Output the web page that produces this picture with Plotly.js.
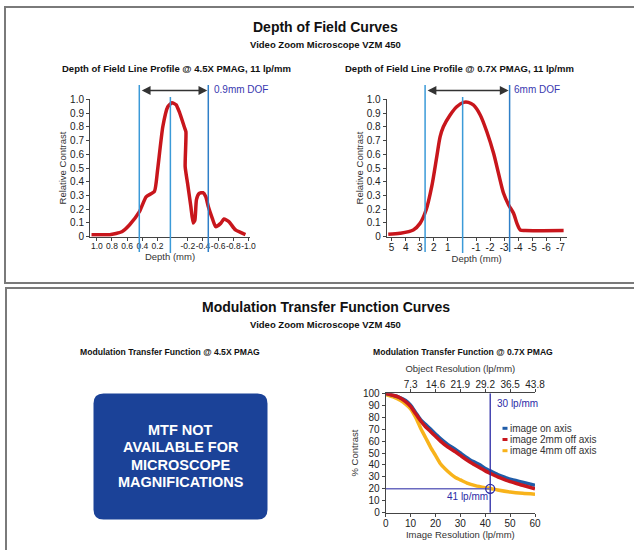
<!DOCTYPE html>
<html>
<head>
<meta charset="utf-8">
<script src="https://cdn.plot.ly/plotly-3.0.1.min.js"></script>
<style>html,body{margin:0;padding:0;background:#fff;}#chart{width:634px;height:550px;}</style>
</head>
<body>
<div id="chart"></div>
<script>
// ---------- data ----------
// Depth of field @ 4.5X PMAG (depth in mm, relative contrast)
const dof45Depth = [1.07, 0.83, 0.67, 0.57, 0.44, 0.35, 0.24, 0.2, 0.13, 0.065, 0.01, -0.045, -0.088, -0.153, -0.175, -0.165, -0.196, -0.24, -0.27, -0.293, -0.314, -0.35, -0.40, -0.437, -0.47, -0.523, -0.567, -0.633, -0.676, -0.741, -0.829, -0.96];
const dof45Contrast = [0.015, 0.015, 0.036, 0.085, 0.18, 0.29, 0.33, 0.48, 0.80, 0.945, 0.975, 0.96, 0.908, 0.80, 0.764, 0.51, 0.39, 0.22, 0.10, 0.12, 0.27, 0.315, 0.32, 0.29, 0.22, 0.134, 0.073, 0.097, 0.129, 0.11, 0.049, 0.015];
const dof45Markers = [0.44, 0.03, -0.47];      // DOF limits and best focus
const dof45Label = '0.9mm DOF';
const dof45TickVals = [1.0, 0.8, 0.6, 0.4, 0.2, -0.2, -0.4, -0.6, -0.8, -1.0];
const dof45TickText = ['1.0', '0.8', '0.6', '0.4', '0.2', '-0.2', '-0.4', '-0.6', '-0.8', '-1.0'];

// Depth of field @ 0.7X PMAG
const dof07Depth = [5.24, 4.4, 3.46, 2.98, 2.55, 2.15, 1.79, 1.55, 1.32, 0.84, 0.37, -0.11, -0.46, -0.82, -1.30, -1.77, -2.25, -2.60, -2.96, -3.32, -3.67, -3.91, -4.15, -4.5, -7.23];
const dof07Contrast = [0.017, 0.025, 0.049, 0.097, 0.194, 0.364, 0.582, 0.728, 0.80, 0.886, 0.946, 0.978, 0.978, 0.958, 0.886, 0.764, 0.607, 0.461, 0.316, 0.231, 0.17, 0.097, 0.049, 0.045, 0.045];
const dof07Markers = [2.62, -0.05, -3.39];
const dof07Label = '6mm DOF';
const dof07TickVals = [5, 4, 3, 2, 1, -1, -2, -3, -4, -5, -6, -7];
const dof07TickText = ['5', '4', '3', '2', '1', '-1', '-2', '-3', '-4', '-5', '-6', '-7'];

const contrastTickVals = [0, 0.1, 0.2, 0.3, 0.4, 0.5, 0.6, 0.7, 0.8, 0.9, 1.0];
const contrastTickText = ['0', '0.1', '0.2', '0.3', '0.4', '0.5', '0.6', '0.7', '0.8', '0.9', '1.0'];

// MTF @ 0.7X PMAG (image resolution lp/mm, % contrast)
const mtfOnAxisRes = [0, 5, 8, 10, 12, 14, 16, 18, 20, 22, 25, 28, 30, 32, 35, 38, 40, 42, 45, 48, 50, 55, 60];
const mtfOnAxis = [100, 97, 94, 90, 84, 78, 74, 70, 66, 62, 57, 53, 50, 47, 43, 40, 37, 35, 32, 29.5, 28, 25.5, 23];
const mtf2mmRes = [0, 5, 8, 10, 12, 14, 16, 18, 20, 22, 25, 28, 30, 32, 35, 38, 40, 42, 45, 48, 50, 55, 60];
const mtf2mm = [100, 97, 93, 89, 83, 77, 72, 68, 64, 60, 55, 51, 48, 45, 41, 37.5, 35, 33, 30, 27.5, 26, 23, 20];
const mtf4mmRes = [0, 3, 6, 8, 10, 12, 14, 16, 18, 20, 22, 25, 28, 30, 33, 36, 40, 42, 45, 50, 55, 60];
const mtf4mm = [99, 97, 94, 91, 87, 80, 71, 63, 55, 48, 41, 34.5, 29.5, 27.5, 24.5, 22.7, 21, 20.3, 19, 17.3, 16.2, 15.5];
const mtfNames = ['image on axis', 'image 2mm off axis', 'image 4mm off axis'];
const imageResTicks = [0, 10, 20, 30, 40, 50, 60];
const objectResTicks = [7.3, 14.6, 21.9, 29.2, 36.5, 43.8];
const objectPerImage = 0.73;              // object resolution = 0.73 x image resolution
const percentTicks = [0, 10, 20, 30, 40, 50, 60, 70, 80, 90, 100];
const limitResolution = 42;               // image lp/mm at 20% contrast
const limitContrast = 20;
const limitImageLabel = '41 lp/mm';
const limitObjectLabel = '30 lp/mm';
const naText = ['MTF NOT', 'AVAILABLE FOR', 'MICROSCOPE', 'MAGNIFICATIONS'];

// ---------- styling ----------
const W = 634, H = 550;
const px = X => X / W;
const py = Y => 1 - Y / H;
const SANS = '"Liberation Sans", Arial, Helvetica, sans-serif';
const RED = '#c8161c';
const LBLUE = '#3b9ad8';
const DBLUE = '#2b2ba6';
const mtfColors = ['#1f5ca8', '#c8161e', '#f8b31b'];

function axisBase(extra) {
  return Object.assign({
    showline: true, linecolor: '#444', linewidth: 1, mirror: false,
    ticks: 'outside', ticklen: 3, tickwidth: 1, tickcolor: '#444', tickangle: 0,
    showgrid: false, zeroline: false, fixedrange: true,
    tickfont: {family: SANS, size: 10, color: '#222'},
    automargin: false
  }, extra);
}

const traces = [
  {x: dof45Depth, y: dof45Contrast, xaxis: 'x', yaxis: 'y', type: 'scatter', mode: 'lines',
   line: {color: RED, width: 3.5, shape: 'spline', smoothing: 0.5}, showlegend: false, hoverinfo: 'skip'},
  {x: dof07Depth, y: dof07Contrast, xaxis: 'x2', yaxis: 'y2', type: 'scatter', mode: 'lines',
   line: {color: RED, width: 3.5, shape: 'spline', smoothing: 0.8}, showlegend: false, hoverinfo: 'skip'},
  {x: mtf4mmRes, y: mtf4mm, xaxis: 'x3', yaxis: 'y3', type: 'scatter', mode: 'lines', name: mtfNames[2],
   line: {color: mtfColors[2], width: 3.5, shape: 'spline', smoothing: 0.6}, showlegend: false, hoverinfo: 'skip'},
  {x: mtfOnAxisRes, y: mtfOnAxis, xaxis: 'x3', yaxis: 'y3', type: 'scatter', mode: 'lines', name: mtfNames[0],
   line: {color: mtfColors[0], width: 3.5, shape: 'spline', smoothing: 0.6}, showlegend: false, hoverinfo: 'skip'},
  {x: mtf2mmRes, y: mtf2mm, xaxis: 'x3', yaxis: 'y3', type: 'scatter', mode: 'lines', name: mtfNames[1],
   line: {color: mtfColors[1], width: 3.5, shape: 'spline', smoothing: 0.6}, showlegend: false, hoverinfo: 'skip'},
  // invisible carrier so the top (object resolution) axis is drawn
  {x: objectResTicks, y: objectResTicks.map(() => limitContrast), xaxis: 'x4', yaxis: 'y3', type: 'scatter', mode: 'markers',
   marker: {opacity: 0, size: 1}, showlegend: false, hoverinfo: 'skip'}
];

const shapes = [];
const annotations = [];

// panel frames
shapes.push({type: 'rect', xref: 'paper', yref: 'paper', x0: px(5), x1: 1.05, y0: py(283), y1: py(7),
  line: {color: '#7a7a7a', width: 2}, fillcolor: 'rgba(0,0,0,0)', layer: 'below'});
shapes.push({type: 'rect', xref: 'paper', yref: 'paper', x0: px(6), x1: 1.05, y0: -0.05, y1: py(288),
  line: {color: '#7a7a7a', width: 2}, fillcolor: 'rgba(0,0,0,0)', layer: 'below'});

// DOF marker lines + arrows
function dofMarks(xr, markers, label, labelX) {
  const [a, c, b] = markers;
  shapes.push({type: 'line', xref: xr, yref: 'paper', x0: a, x1: a, y0: py(252), y1: py(85), line: {color: LBLUE, width: 1.5}});
  shapes.push({type: 'line', xref: xr, yref: 'paper', x0: c, x1: c, y0: py(253), y1: py(97), line: {color: LBLUE, width: 1.5}});
  shapes.push({type: 'line', xref: xr, yref: 'paper', x0: b, x1: b, y0: py(252), y1: py(85), line: {color: '#2f7fc8', width: 1.5}});
  annotations.push({xref: xr, yref: 'paper', x: b, y: py(90.5), axref: xr, ax: a, ayref: 'pixel', ay: 0,
    text: '', showarrow: true, arrowhead: 2, startarrowhead: 2, arrowside: 'end+start',
    arrowsize: 1.1, startarrowsize: 1.1, arrowwidth: 1.6, arrowcolor: '#333', standoff: 1, startstandoff: 1});
  annotations.push({xref: 'paper', yref: 'paper', x: px(labelX), y: py(90), xanchor: 'left', yanchor: 'middle',
    text: label, showarrow: false, font: {family: SANS, size: 10, color: '#3838b0'}});
}
dofMarks('x', dof45Markers, dof45Label, 212);
dofMarks('x2', dof07Markers, dof07Label, 512);

// MTF limit lines
shapes.push({type: 'line', xref: 'x3', yref: 'y3', x0: limitResolution, x1: limitResolution, y0: 0, y1: 100, line: {color: DBLUE, width: 1.3}});
shapes.push({type: 'line', xref: 'x3', yref: 'y3', x0: 0, x1: limitResolution, y0: limitContrast, y1: limitContrast, line: {color: '#6a6ac0', width: 1.5}});
shapes.push({type: 'circle', xref: 'x3', yref: 'y3', xsizemode: 'pixel', ysizemode: 'pixel',
  xanchor: limitResolution, yanchor: limitContrast, x0: -4.5, x1: 4.5, y0: -4.5, y1: 4.5, line: {color: DBLUE, width: 1.3}});
annotations.push({xref: 'paper', yref: 'paper', x: px(495), y: py(403), xanchor: 'left', yanchor: 'middle',
  text: limitObjectLabel, showarrow: false, font: {family: SANS, size: 10, color: DBLUE}});
annotations.push({xref: 'paper', yref: 'paper', x: px(490), y: py(496.5), xanchor: 'right', yanchor: 'middle',
  text: limitImageLabel, showarrow: false, font: {family: SANS, size: 10, color: DBLUE}});

// MTF legend
mtfNames.forEach((n, i) => {
  const Y = 428.3 + i * 11.2;
  shapes.push({type: 'line', xref: 'paper', yref: 'paper', x0: px(502.5), x1: px(507.5), y0: py(Y), y1: py(Y), line: {color: mtfColors[i], width: 3}});
  annotations.push({xref: 'paper', yref: 'paper', x: px(507.5), y: py(Y), xanchor: 'left', yanchor: 'middle',
    text: n, showarrow: false, font: {family: SANS, size: 10, color: '#333'}});
});

// blue "not available" box with rounded corners
(function () {
  const X0 = 93.5, X1 = 267.5, Y0 = 393.5, Y1 = 519.5, r = 10;
  const p = (X, Y) => px(X).toFixed(5) + ',' + py(Y).toFixed(5);
  const path = 'M ' + p(X0 + r, Y0) + ' L ' + p(X1 - r, Y0) + ' Q ' + p(X1, Y0) + ' ' + p(X1, Y0 + r) +
    ' L ' + p(X1, Y1 - r) + ' Q ' + p(X1, Y1) + ' ' + p(X1 - r, Y1) +
    ' L ' + p(X0 + r, Y1) + ' Q ' + p(X0, Y1) + ' ' + p(X0, Y1 - r) +
    ' L ' + p(X0, Y0 + r) + ' Q ' + p(X0, Y0) + ' ' + p(X0 + r, Y0) + ' Z';
  shapes.push({type: 'path', xref: 'paper', yref: 'paper', path: path, fillcolor: '#1b4298', line: {width: 0}});
})();
naText.forEach((t, i) => {
  annotations.push({xref: 'paper', yref: 'paper', x: px(180.5), y: py(429.5 + i * 17.5), xanchor: 'center', yanchor: 'middle',
    text: '<b>' + t + '</b>', showarrow: false, font: {family: SANS, size: 14.5, color: '#ffffff'}});
});

// titles
function title(text, X, Y, size) {
  annotations.push({xref: 'paper', yref: 'paper', x: px(X), y: py(Y), xanchor: 'center', yanchor: 'middle',
    text: text, showarrow: false, font: {family: SANS, size: size, color: '#111'}});
}
title('<b>Depth of Field Curves</b>', 325, 27, 14);
title('<b>Video Zoom Microscope VZM 450</b>', 325, 45, 9.5);
title('<b>Depth of Field Line Profile @ 4.5X PMAG, 11 lp/mm</b>', 176, 68, 9.5);
title('<b>Depth of Field Line Profile @ 0.7X PMAG, 11 lp/mm</b>', 459, 68, 9.5);
title('<b>Modulation Transfer Function Curves</b>', 326, 307, 14);
title('<b>Video Zoom Microscope VZM 450</b>', 325, 324, 9.5);
title('<b>Modulation Transfer Function @ 4.5X PMAG</b>', 170, 352, 8.6);
title('<b>Modulation Transfer Function @ 0.7X PMAG</b>', 463, 352, 8.6);

const axTitleFont = {family: SANS, size: 9.5, color: '#333'};

const layout = {
  width: W, height: H,
  margin: {l: 0, r: 0, t: 0, b: 0},
  paper_bgcolor: '#ffffff', plot_bgcolor: 'rgba(0,0,0,0)',
  showlegend: false,
  xaxis: axisBase({domain: [px(90), px(250)], range: [1.09, -1.02], anchor: 'y',
    tickmode: 'array', tickvals: dof45TickVals, ticktext: dof45TickText, ticklabelstandoff: -2,
    tickfont: {family: SANS, size: 8.5, color: '#222'},
    title: {text: 'Depth (mm)', font: axTitleFont, standoff: 3}}),
  yaxis: axisBase({domain: [py(236.7), py(99.3)], range: [0, 1], anchor: 'x',
    tickmode: 'array', tickvals: contrastTickVals, ticktext: contrastTickText,
    title: {text: 'Relative Contrast', font: axTitleFont, standoff: 1}}),
  xaxis2: axisBase({domain: [px(386.7), px(566.7)], range: [5.35, -7.45], anchor: 'y2',
    tickmode: 'array', tickvals: dof07TickVals, ticktext: dof07TickText, ticklabelstandoff: -2,
    title: {text: 'Depth (mm)', font: axTitleFont, standoff: 3}}),
  yaxis2: axisBase({domain: [py(236.7), py(99.3)], range: [0, 1], anchor: 'x2',
    tickmode: 'array', tickvals: contrastTickVals, ticktext: contrastTickText,
    title: {text: 'Relative Contrast', font: axTitleFont, standoff: 1}}),
  xaxis3: axisBase({domain: [px(385.7), px(535)], range: [0, 60], anchor: 'y3',
    tickmode: 'array', tickvals: imageResTicks, ticklabelstandoff: -2,
    title: {text: 'Image Resolution (lp/mm)', font: axTitleFont, standoff: 3}}),
  xaxis4: axisBase({overlaying: 'x3', side: 'top', range: [0, 60 * objectPerImage], anchor: 'y3',
    tickmode: 'array', tickvals: objectResTicks, ticktext: objectResTicks.map(v => v.toFixed(1)), ticklabelstandoff: -3,
    title: {text: 'Object Resolution (lp/mm)', font: axTitleFont, standoff: 4}}),
  yaxis3: axisBase({domain: [py(512.7), py(393.3)], range: [0, 100], anchor: 'x3',
    tickmode: 'array', tickvals: percentTicks,
    title: {text: '% Contrast', font: axTitleFont, standoff: 2}}),
  shapes: shapes,
  annotations: annotations
};

Plotly.newPlot('chart', traces, layout, {staticPlot: true, displayModeBar: false});
</script>
</body>
</html>
